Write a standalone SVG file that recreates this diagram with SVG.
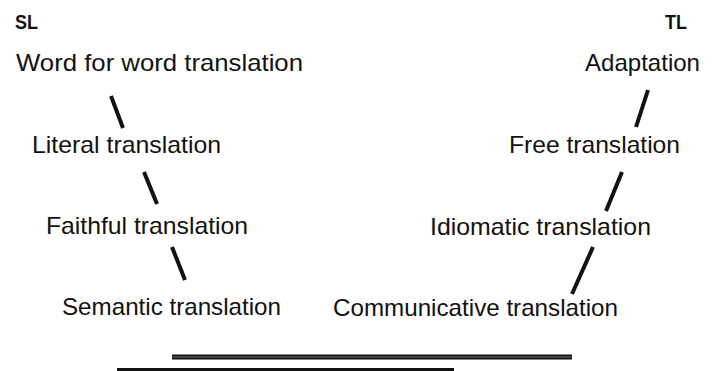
<svg xmlns="http://www.w3.org/2000/svg" width="714" height="371" viewBox="0 0 714 371">
<style>
text{font-family:"Liberation Sans","DejaVu Sans",sans-serif;fill:#111;}
.t{font-size:24px;}
.h{font-size:20px;font-weight:bold;}
.c{stroke:#111;stroke-width:4;stroke-linecap:butt;fill:none;}
</style>
<rect width="714" height="371" fill="#fff"/>
<g id="sl"><text class="h" x="15" y="29" textLength="23" lengthAdjust="spacingAndGlyphs">SL</text></g>
<g id="tl"><text class="h" x="665" y="29" textLength="22" lengthAdjust="spacingAndGlyphs">TL</text></g>
<g id="word"><text class="t" x="16" y="71" textLength="287" lengthAdjust="spacingAndGlyphs">Word for word translation</text></g>
<g id="literal"><text class="t" x="32" y="153" textLength="189" lengthAdjust="spacingAndGlyphs">Literal translation</text></g>
<g id="faithful"><text class="t" x="46" y="234" textLength="202" lengthAdjust="spacingAndGlyphs">Faithful translation</text></g>
<g id="semantic"><text class="t" x="62" y="315" textLength="219" lengthAdjust="spacingAndGlyphs">Semantic translation</text></g>
<g id="adaptation"><text class="t" x="585" y="71" textLength="115" lengthAdjust="spacingAndGlyphs">Adaptation</text></g>
<g id="free"><text class="t" x="509" y="153" textLength="171" lengthAdjust="spacingAndGlyphs">Free translation</text></g>
<g id="idiomatic"><text class="t" x="430" y="235" textLength="221" lengthAdjust="spacingAndGlyphs">Idiomatic translation</text></g>
<g id="communicative"><text class="t" x="333" y="316" textLength="285" lengthAdjust="spacingAndGlyphs">Communicative translation</text></g>
<g id="connectors">
<line class="c" x1="111" y1="96" x2="123" y2="128"/>
<line class="c" x1="144" y1="172" x2="157" y2="204"/>
<line class="c" x1="172" y1="247" x2="185" y2="280"/>
<line class="c" x1="648" y1="90" x2="636" y2="127"/>
<line class="c" x1="622" y1="172" x2="606" y2="211"/>
<line class="c" x1="593" y1="247" x2="572" y2="294"/>
<line x1="172" y1="357" x2="572" y2="357" stroke="#111" stroke-width="5"/>
<line x1="172" y1="357" x2="572" y2="357" stroke="#555" stroke-width="1.5"/>
<line x1="117" y1="369.5" x2="454" y2="369.5" stroke="#111" stroke-width="3"/>
</g>
</svg>
